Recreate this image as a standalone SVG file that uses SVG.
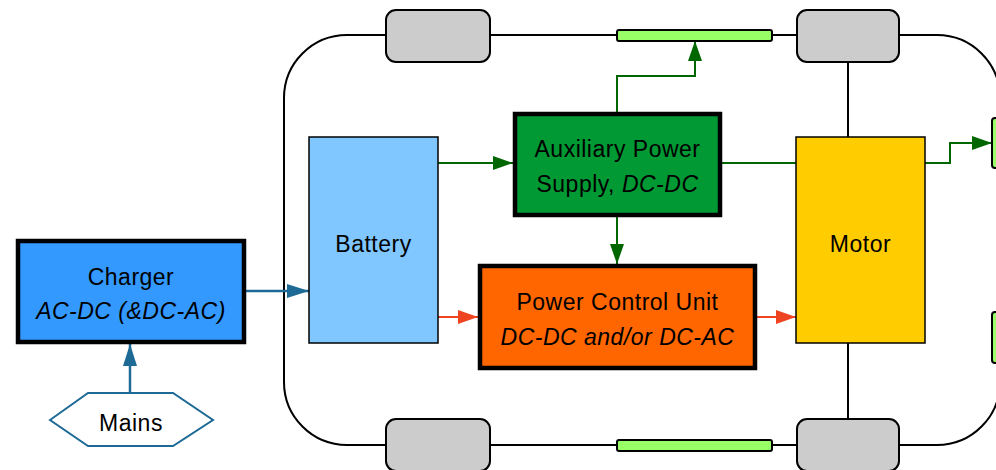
<svg xmlns="http://www.w3.org/2000/svg" width="996" height="470" viewBox="0 0 996 470">
<defs>
<style>
.t{font-family:"Liberation Sans",Arial,sans-serif;font-size:23px;fill:#000;text-anchor:middle;letter-spacing:0.5px}
.i{font-style:italic}
.wheel{fill:#cccccc;stroke:#000;stroke-width:2}
.bar{fill:#99ff66;stroke:#000;stroke-width:2}
.blk{fill:none;stroke:#000;stroke-width:2}
.grn{fill:none;stroke:#006600;stroke-width:2}
.red{fill:none;stroke:#ee4422;stroke-width:1.8}
.blu{fill:none;stroke:#1d6a96;stroke-width:2.5}
</style>
<marker id="ag" markerUnits="userSpaceOnUse" markerWidth="20" markerHeight="14" refX="20" refY="7" orient="auto"><path d="M0,0 L20,7 L0,14 z" fill="#006600"/></marker>
<marker id="ar" markerUnits="userSpaceOnUse" markerWidth="20" markerHeight="14" refX="20" refY="7" orient="auto"><path d="M0,0 L20,7 L0,14 z" fill="#ee4422"/></marker>
<marker id="ab" markerUnits="userSpaceOnUse" markerWidth="22" markerHeight="14" refX="22" refY="7" orient="auto"><path d="M0,0 L22,7 L0,14 z" fill="#1d6a96"/></marker>
</defs>
<rect width="996" height="470" fill="#fff"/>
<g id="car-body">
<rect x="284" y="35" width="716" height="410" rx="63" ry="63" class="blk"/>
</g>
<g id="connectors">
<line x1="848" y1="62" x2="848" y2="137" class="blk"/>
<line x1="848" y1="343" x2="848" y2="419" class="blk"/>
<line x1="246" y1="291" x2="309" y2="291" class="blu" marker-end="url(#ab)"/>
<line x1="130" y1="393" x2="130" y2="344" class="blu" marker-end="url(#ab)"/>
<line x1="438" y1="163" x2="513" y2="163" class="grn" marker-end="url(#ag)"/>
<line x1="722" y1="163" x2="796" y2="163" class="grn"/>
<line x1="617" y1="217" x2="617" y2="264" class="grn" marker-end="url(#ag)"/>
<path d="M617,112 V76 H695 V41" class="grn" marker-end="url(#ag)"/>
<path d="M925,163 H950 V143 H992" class="grn" marker-end="url(#ag)"/>
<line x1="438" y1="317" x2="478" y2="317" class="red" marker-end="url(#ar)"/>
<line x1="757" y1="317" x2="796" y2="317" class="red" marker-end="url(#ar)"/>
</g>
<g id="wheel-tl"><rect x="386" y="10" width="104" height="52" rx="10" class="wheel"/></g>
<g id="wheel-tr"><rect x="797" y="10" width="102" height="52" rx="10" class="wheel"/></g>
<g id="wheel-bl"><rect x="386" y="419" width="104" height="52" rx="10" class="wheel"/></g>
<g id="wheel-br"><rect x="797" y="419" width="102" height="52" rx="10" class="wheel"/></g>
<g id="bar-top"><rect x="617" y="30" width="155" height="11" rx="2" class="bar"/></g>
<g id="bar-bottom"><rect x="617" y="440" width="155" height="11" rx="2" class="bar"/></g>
<g id="bar-right-1"><rect x="992" y="118" width="20" height="50" rx="3" class="bar"/></g>
<g id="bar-right-2"><rect x="992" y="312" width="20" height="51" rx="3" class="bar"/></g>
<g id="battery">
<rect x="309" y="137" width="129" height="206" fill="#80c6ff" stroke="#000" stroke-width="1.5"/>
<text x="373.5" y="252" class="t">Battery</text>
</g>
<g id="motor">
<rect x="796" y="137" width="129" height="206" fill="#ffcc00" stroke="#000" stroke-width="1.5"/>
<text x="860.5" y="252" class="t">Motor</text>
</g>
<g id="aux">
<rect x="515" y="114" width="205" height="101" fill="#009933" stroke="#000" stroke-width="4.5"/>
<text x="617.5" y="157" class="t">Auxiliary Power</text>
<text x="617.5" y="192" class="t">Supply, <tspan class="i">DC-DC</tspan></text>
</g>
<g id="pcu">
<rect x="480" y="266" width="275" height="102" fill="#ff6600" stroke="#000" stroke-width="4.5"/>
<text x="617.5" y="310" class="t">Power Control Unit</text>
<text x="617.5" y="345" class="t i">DC-DC and/or DC-AC</text>
</g>
<g id="charger">
<rect x="18" y="241" width="226" height="101" fill="#3399ff" stroke="#000" stroke-width="4.5"/>
<text x="131" y="285" class="t">Charger</text>
<text x="131" y="319" class="t i">AC-DC (&amp;DC-AC)</text>
</g>
<g id="mains">
<polygon points="50,420 88,393 173,393 213,420 173,446 88,446" fill="#fff" stroke="#1d6a96" stroke-width="2"/>
<text x="131" y="431" class="t">Mains</text>
</g>
</svg>
